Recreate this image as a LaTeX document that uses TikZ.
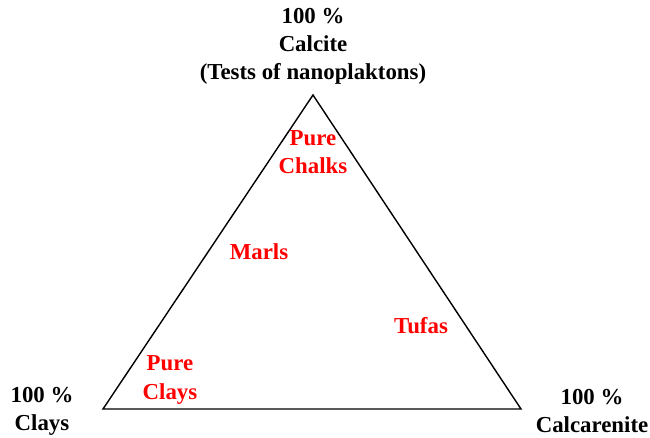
\documentclass[tikz,border=0pt]{standalone}
\usepackage{fontspec}
\setmainfont{Liberation Serif}
\usepackage{tikz}
\usetikzlibrary{positioning}
\definecolor{rock}{RGB}{255,0,0}

\begin{document}
\begin{tikzpicture}[x=0.02cm, y=-0.02cm, font=\fontsize{13}{16}\selectfont\bfseries]
        \useasboundingbox (0,0) rectangle (650,437);
        \coordinate (top) at (313,95);
        \coordinate (left) at (103,409);
        \coordinate (right) at (521,409);
        \draw[thick, line join=miter] (top) -- (left) -- (right) -- cycle;
        \node[align=center] (calcite) at (313,46) {100 \%\\Calcite\\(Tests of nanoplaktons)};
        \node[align=center] (clays) at (42,411) {100 \%\\Clays};
        \node[align=center] (calcarenite) at (592,411) {100 \%\\Calcarenite};
        \node[align=center, text=rock] (chalks) at (313,152) {Pure\\Chalks};
        \node[text=rock] (marls) at (259,252) {Marls};
        \node[text=rock] (tufas) at (421,326) {Tufas};
        \node[align=center, text=rock] (pclays) at (170,380) {Pure\\Clays};
      \end{tikzpicture}
\end{document}
